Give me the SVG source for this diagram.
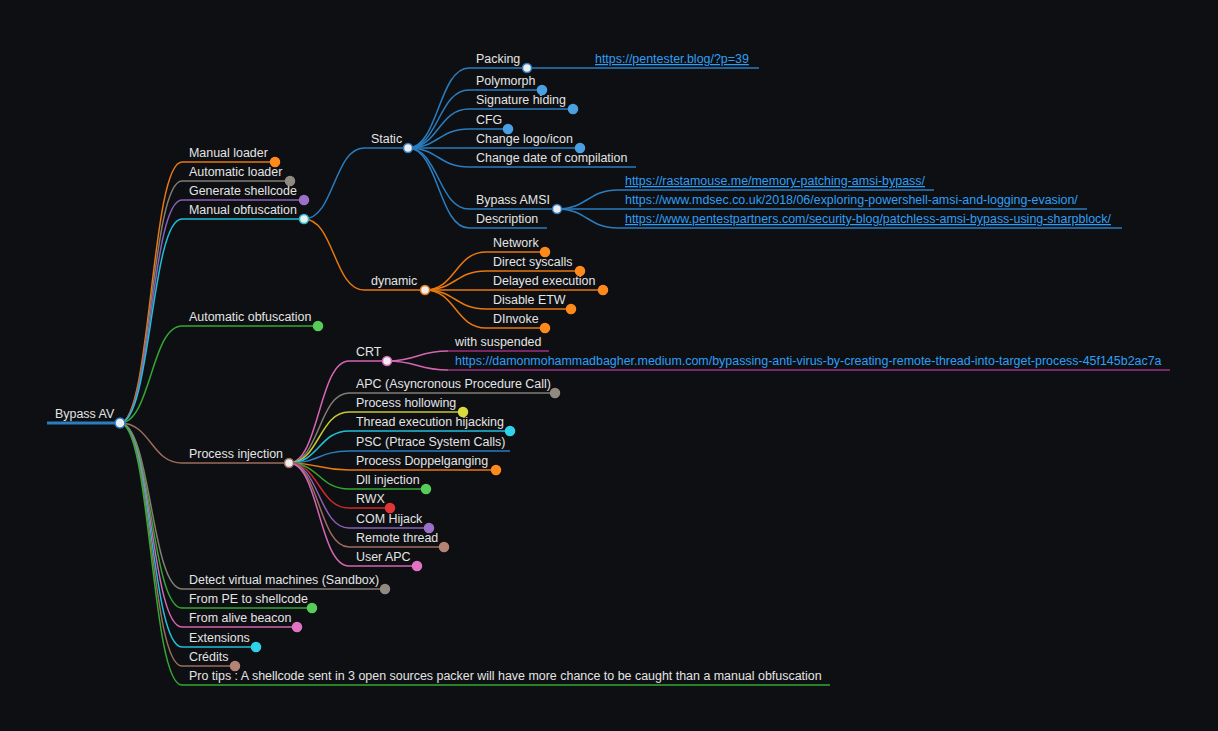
<svg xmlns="http://www.w3.org/2000/svg" width="1218" height="731" viewBox="0 0 1218 731">
<style>
text{font-family:"Liberation Sans",Arial,Helvetica,sans-serif;font-size:12.45px;fill:#e4e4e4}
text.lk{fill:#2f9ff5}
text.u{text-decoration:underline}
.ln,.cn{fill:none;stroke-width:1.5}
.root{stroke-width:3}
.dot{stroke-width:1.5}
.open{fill:#eeeeee}
.s-b{stroke:#2a7dbf}.s-o{stroke:#e8780f}.s-g{stroke:#33a833}.s-r{stroke:#c92a2a}.s-p{stroke:#8b5fb8}
.s-br{stroke:#9c6d5f}.s-pk{stroke:#d565b3}.s-gy{stroke:#847d73}.s-y{stroke:#c8c832}.s-c{stroke:#20bfd8}.s-m{stroke:#9e2f83}
.d-b{fill:#4aa0e3;stroke:#4aa0e3}.d-o{fill:#ff8a1c;stroke:#ff8a1c}.d-g{fill:#58cc58;stroke:#58cc58}.d-r{fill:#e23636;stroke:#e23636}
.d-p{fill:#9a70c8;stroke:#9a70c8}.d-br{fill:#b38475;stroke:#b38475}.d-pk{fill:#e272c4;stroke:#e272c4}.d-gy{fill:#918a80;stroke:#918a80}
.d-y{fill:#dada3e;stroke:#dada3e}.d-c{fill:#30d2ea;stroke:#30d2ea}
</style>
<rect width="1218" height="731" fill="#0d0f12"/>
<g id="connectors">
<path class="cn s-o" d="M120,423C151,423 151,162 182,162"/>
<path class="cn s-gy" d="M120,423C151,423 151,181 182,181"/>
<path class="cn s-p" d="M120,423C151,423 151,200 182,200"/>
<path class="cn s-c" d="M120,423C151,423 151,219 182,219"/>
<path class="cn s-g" d="M120,423C151,423 151,326 182,326"/>
<path class="cn s-br" d="M120,423C151,423 151,463 182,463"/>
<path class="cn s-gy" d="M120,423C151,423 151,589 182,589"/>
<path class="cn s-g" d="M120,423C151,423 151,608 182,608"/>
<path class="cn s-pk" d="M120,423C151,423 151,627 182,627"/>
<path class="cn s-c" d="M120,423C151,423 151,647 182,647"/>
<path class="cn s-br" d="M120,423C151,423 151,666 182,666"/>
<path class="cn s-g" d="M120,423C151,423 151,685 182,685"/>
<path class="cn s-b" d="M304,219C334,219 334,148 364,148"/>
<path class="cn s-o" d="M304,219C334,219 334,290 364,290"/>
<path class="cn s-b" d="M408,148C438.5,148 438.5,68 469,68"/>
<path class="cn s-b" d="M408,148C438.5,148 438.5,90 469,90"/>
<path class="cn s-b" d="M408,148C438.5,148 438.5,109 469,109"/>
<path class="cn s-b" d="M408,148C438.5,148 438.5,129 469,129"/>
<path class="cn s-b" d="M408,148C438.5,148 438.5,148 469,148"/>
<path class="cn s-b" d="M408,148C438.5,148 438.5,167 469,167"/>
<path class="cn s-b" d="M408,148C438.5,148 438.5,209 469,209"/>
<path class="cn s-b" d="M408,148C438.5,148 438.5,228 469,228"/>
<path class="cn s-b" d="M527,68H588"/>
<path class="cn s-b" d="M557,209C587.5,209 587.5,190 618,190"/>
<path class="cn s-b" d="M557,209H618"/>
<path class="cn s-b" d="M557,209C587.5,209 587.5,228 618,228"/>
<path class="cn s-o" d="M425,290C455.5,290 455.5,252 486,252"/>
<path class="cn s-o" d="M425,290C455.5,290 455.5,271 486,271"/>
<path class="cn s-o" d="M425,290H486"/>
<path class="cn s-o" d="M425,290C455.5,290 455.5,309 486,309"/>
<path class="cn s-o" d="M425,290C455.5,290 455.5,328 486,328"/>
<path class="cn s-pk" d="M289,463C319,463 319,361 349,361"/>
<path class="cn s-gy" d="M289,463C319,463 319,393 349,393"/>
<path class="cn s-y" d="M289,463C319,463 319,412 349,412"/>
<path class="cn s-c" d="M289,463C319,463 319,431 349,431"/>
<path class="cn s-b" d="M289,463C319,463 319,451 349,451"/>
<path class="cn s-o" d="M289,463C319,463 319,470 349,470"/>
<path class="cn s-g" d="M289,463C319,463 319,489 349,489"/>
<path class="cn s-r" d="M289,463C319,463 319,508 349,508"/>
<path class="cn s-p" d="M289,463C319,463 319,528 349,528"/>
<path class="cn s-br" d="M289,463C319,463 319,547 349,547"/>
<path class="cn s-pk" d="M289,463C319,463 319,566 349,566"/>
<path class="cn s-pk" d="M387,361C417.5,361 417.5,351 448,351"/>
<path class="cn s-pk" d="M387,361C417.5,361 417.5,370 448,370"/>
</g>
<g id="n-root"><path class="ln root s-b" d="M47,423H120"/><circle class="dot open s-b" cx="120" cy="423" r="5"/><text x="55" y="418">Bypass AV</text></g>
<g id="n-manual-loader"><path class="ln s-o" d="M182,162H275"/><circle class="dot d-o" cx="275" cy="162" r="4.5"/><text x="189" y="157">Manual loader</text></g>
<g id="n-automatic-loader"><path class="ln s-gy" d="M182,181H290"/><circle class="dot d-gy" cx="290" cy="181" r="4.5"/><text x="189" y="176">Automatic loader</text></g>
<g id="n-generate-shellcode"><path class="ln s-p" d="M182,200H304"/><circle class="dot d-p" cx="304" cy="200" r="4.5"/><text x="189" y="195">Generate shellcode</text></g>
<g id="n-manual-obfuscation"><path class="ln s-c" d="M182,219H304"/><circle class="dot open s-c" cx="304" cy="219" r="4.5"/><text x="189" y="214">Manual obfuscation</text></g>
<g id="n-static"><path class="ln s-b" d="M364,148H408"/><circle class="dot open s-b" cx="408" cy="148" r="4.5"/><text x="371" y="143">Static</text></g>
<g id="n-packing"><path class="ln s-b" d="M469,68H527"/><circle class="dot open s-b" cx="527" cy="68" r="4.5"/><text x="476" y="63">Packing</text></g>
<g id="n-pentester"><path class="ln s-b" d="M588,68H759"/><text class="lk u" x="595" y="63">https://pentester.blog/?p=39</text></g>
<g id="n-polymorph"><path class="ln s-b" d="M469,90H542"/><circle class="dot d-b" cx="542" cy="90" r="4.5"/><text x="476" y="85">Polymorph</text></g>
<g id="n-signature"><path class="ln s-b" d="M469,109H573"/><circle class="dot d-b" cx="573" cy="109" r="4.5"/><text x="476" y="104">Signature hiding</text></g>
<g id="n-cfg"><path class="ln s-b" d="M469,129H508"/><circle class="dot d-b" cx="508" cy="129" r="4.5"/><text x="476" y="124">CFG</text></g>
<g id="n-logo"><path class="ln s-b" d="M469,148H580"/><circle class="dot d-b" cx="580" cy="148" r="4.5"/><text x="476" y="143">Change logo/icon</text></g>
<g id="n-date"><path class="ln s-b" d="M469,167H636"/><text x="476" y="162">Change date of compilation</text></g>
<g id="n-amsi"><path class="ln s-b" d="M469,209H557"/><circle class="dot open s-b" cx="557" cy="209" r="4.5"/><text x="476" y="204">Bypass AMSI</text></g>
<g id="n-rastamouse"><path class="ln s-b" d="M618,190H934"/><text class="lk u" x="625" y="185">https://rastamouse.me/memory-patching-amsi-bypass/</text></g>
<g id="n-mdsec"><path class="ln s-b" d="M618,209H1087"/><text class="lk" x="625" y="204">https://www.mdsec.co.uk/2018/06/exploring-powershell-amsi-and-logging-evasion/</text></g>
<g id="n-pentestpartners"><path class="ln s-b" d="M618,228H1122"/><text class="lk u" x="625" y="223">https://www.pentestpartners.com/security-blog/patchless-amsi-bypass-using-sharpblock/</text></g>
<g id="n-description"><path class="ln s-b" d="M469,228H547"/><text x="476" y="223">Description</text></g>
<g id="n-dynamic"><path class="ln s-o" d="M364,290H425"/><circle class="dot open s-o" cx="425" cy="290" r="4.5"/><text x="371" y="285">dynamic</text></g>
<g id="n-network"><path class="ln s-o" d="M486,252H545"/><circle class="dot d-o" cx="545" cy="252" r="4.5"/><text x="493" y="247">Network</text></g>
<g id="n-syscalls"><path class="ln s-o" d="M486,271H580"/><circle class="dot d-o" cx="580" cy="271" r="4.5"/><text x="493" y="266">Direct syscalls</text></g>
<g id="n-delayed"><path class="ln s-o" d="M486,290H603"/><circle class="dot d-o" cx="603" cy="290" r="4.5"/><text x="493" y="285">Delayed execution</text></g>
<g id="n-etw"><path class="ln s-o" d="M486,309H571"/><circle class="dot d-o" cx="571" cy="309" r="4.5"/><text x="493" y="304">Disable ETW</text></g>
<g id="n-dinvoke"><path class="ln s-o" d="M486,328H545"/><circle class="dot d-o" cx="545" cy="328" r="4.5"/><text x="493" y="323">DInvoke</text></g>
<g id="n-automatic-obfuscation"><path class="ln s-g" d="M182,326H318"/><circle class="dot d-g" cx="318" cy="326" r="4.5"/><text x="189" y="321">Automatic obfuscation</text></g>
<g id="n-process-injection"><path class="ln s-br" d="M182,463H289"/><circle class="dot open s-br" cx="289" cy="463" r="4.5"/><text x="189" y="458">Process injection</text></g>
<g id="n-crt"><path class="ln s-pk" d="M349,361H387"/><circle class="dot open s-pk" cx="387" cy="361" r="4.5"/><text x="356" y="356">CRT</text></g>
<g id="n-suspended"><path class="ln s-m" d="M448,351H549"/><text x="455" y="346">with suspended</text></g>
<g id="n-damon"><path class="ln s-m" d="M448,370H1170"/><text class="lk" x="455" y="365">https://damonmohammadbagher.medium.com/bypassing-anti-virus-by-creating-remote-thread-into-target-process-45f145b2ac7a</text></g>
<g id="n-apc"><path class="ln s-gy" d="M349,393H555"/><circle class="dot d-gy" cx="555" cy="393" r="4.5"/><text x="356" y="388">APC (Asyncronous Procedure Call)</text></g>
<g id="n-hollowing"><path class="ln s-y" d="M349,412H463"/><circle class="dot d-y" cx="463" cy="412" r="4.5"/><text x="356" y="407">Process hollowing</text></g>
<g id="n-hijacking"><path class="ln s-c" d="M349,431H510"/><circle class="dot d-c" cx="510" cy="431" r="4.5"/><text x="356" y="426">Thread execution hijacking</text></g>
<g id="n-psc"><path class="ln s-b" d="M349,451H510"/><text x="356" y="446">PSC (Ptrace System Calls)</text></g>
<g id="n-doppel"><path class="ln s-o" d="M349,470H496"/><circle class="dot d-o" cx="496" cy="470" r="4.5"/><text x="356" y="465">Process Doppelganging</text></g>
<g id="n-dll"><path class="ln s-g" d="M349,489H426"/><circle class="dot d-g" cx="426" cy="489" r="4.5"/><text x="356" y="484">Dll injection</text></g>
<g id="n-rwx"><path class="ln s-r" d="M349,508H390"/><circle class="dot d-r" cx="390" cy="508" r="4.5"/><text x="356" y="503">RWX</text></g>
<g id="n-com"><path class="ln s-p" d="M349,528H429"/><circle class="dot d-p" cx="429" cy="528" r="4.5"/><text x="356" y="523">COM Hijack</text></g>
<g id="n-remote"><path class="ln s-br" d="M349,547H444"/><circle class="dot d-br" cx="444" cy="547" r="4.5"/><text x="356" y="542">Remote thread</text></g>
<g id="n-userapc"><path class="ln s-pk" d="M349,566H417"/><circle class="dot d-pk" cx="417" cy="566" r="4.5"/><text x="356" y="561">User APC</text></g>
<g id="n-detect"><path class="ln s-gy" d="M182,589H385"/><circle class="dot d-gy" cx="385" cy="589" r="4.5"/><text x="189" y="584">Detect virtual machines (Sandbox)</text></g>
<g id="n-pe"><path class="ln s-g" d="M182,608H312"/><circle class="dot d-g" cx="312" cy="608" r="4.5"/><text x="189" y="603">From PE to shellcode</text></g>
<g id="n-beacon"><path class="ln s-pk" d="M182,627H297"/><circle class="dot d-pk" cx="297" cy="627" r="4.5"/><text x="189" y="622">From alive beacon</text></g>
<g id="n-extensions"><path class="ln s-c" d="M182,647H256"/><circle class="dot d-c" cx="256" cy="647" r="4.5"/><text x="189" y="642">Extensions</text></g>
<g id="n-credits"><path class="ln s-br" d="M182,666H235"/><circle class="dot d-br" cx="235" cy="666" r="4.5"/><text x="189" y="661">Crédits</text></g>
<g id="n-protips"><path class="ln s-g" d="M182,685H830"/><text x="189" y="680">Pro tips : A shellcode sent in 3 open sources packer will have more chance to be caught than a manual obfuscation</text></g>
</svg>
